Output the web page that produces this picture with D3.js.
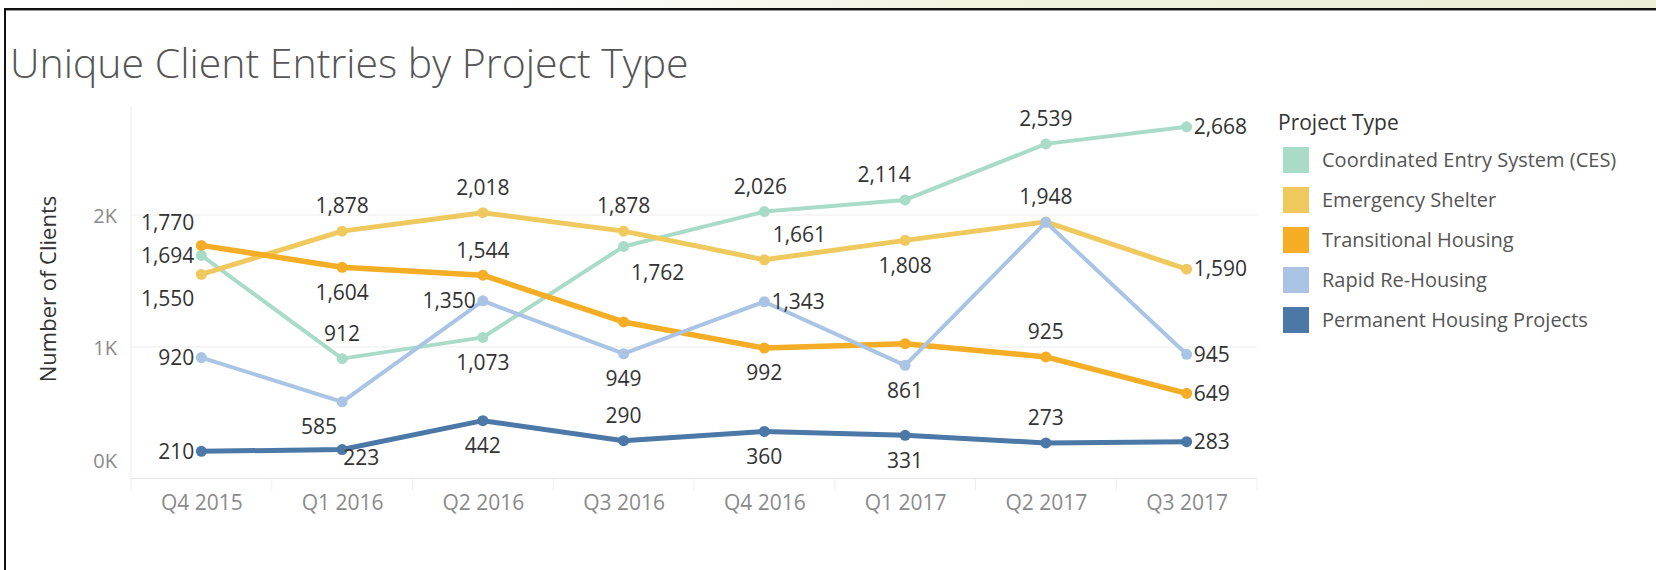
<!DOCTYPE html>
<html>
<head>
<meta charset="utf-8">
<script src="https://cdn.jsdelivr.net/npm/d3@7"></script>
<style>
  body { margin: 0; background: #fff; overflow: hidden; }
  text { font-family: "Open Sans", sans-serif; }
</style>
</head>
<body>
<div id="chart"></div>
<script>

// Quarterly unique client entries

var quarters = ["Q4 2015", "Q1 2016", "Q2 2016", "Q3 2016", "Q4 2016", "Q1 2017", "Q2 2017", "Q3 2017"];

var projectTypes = ["Coordinated Entry System (CES)", "Emergency Shelter", "Transitional Housing",
                    "Rapid Re-Housing", "Permanent Housing Projects"];

var cesClients          = [1694,  912, 1073, 1762, 2026, 2114, 2539, 2668];
var shelterClients      = [1550, 1878, 2018, 1878, 1661, 1808, 1948, 1590];
var transitionalClients = [1770, 1604, 1544, 1190,  992, 1025,  925,  649];
var rapidClients        = [ 920,  585, 1350,  949, 1343,  861, 1945,  945];
var permanentClients    = [ 210,  223,  442,  290,  360,  331,  273,  283];

var yTickValues = [0, 1000, 2000];

var colors = ["#a9dbc9", "#efc95e", "#f4ad24", "#a9c4e4", "#4b78a6"];
var lineWidths = [4, 5, 5.5, 4, 5];

/* Where Tableau put each mark label: t = above, b = below, l = left, r = right,
   optionally followed by a small extra shift [dx, dy]. null = label hidden. */

var T = ["t"], B = ["b"], L = ["l"], R = ["r"];
var labelPlacement = [
  [L, T, B, ["b", 34, 1], ["t", -4, 0], ["t", -21, 0], T, R],
  [["l", 0, 24], T, T, T, ["t", 35, 0], B, T, R],
  [["l", 0, -23], B, T, null, B, null, T, R],
  [L, ["b", -23, 0], L, B, R, B, null, R],
  [L, ["s", 1, 8], B, T, B, B, T, R]
];

var allSeries = [cesClients, shelterClients, transitionalClients, rapidClients, permanentClients];

var series = projectTypes.map(function(name, i) {
  return {
    name: name,
    color: colors[i],
    width: lineWidths[i],
    values: allSeries[i].map(function(v, j) {
      return { quarter: quarters[j], value: v, place: labelPlacement[i][j] };
    })
  };
});

var width = 1656,
    height = 570,
    plot = { left: 131, right: 1257, top: 106, bottom: 479 };

var svg = d3.select("#chart").append("svg")
    .attr("width", width)
    .attr("height", height);

// Frame of the screenshot: beige strip on top and a dark border

var grad = svg.append("defs").append("linearGradient")
    .attr("id", "strip")
    .attr("x1", "0").attr("x2", "1").attr("y1", "0").attr("y2", "0");
grad.append("stop").attr("offset", "0.3").attr("stop-color", "#ffffff");
grad.append("stop").attr("offset", "0.6").attr("stop-color", "#f1f2df");
grad.append("stop").attr("offset", "1").attr("stop-color", "#eef0d6");

svg.append("rect")
    .attr("x", 0).attr("y", 0)
    .attr("width", width).attr("height", 8)
    .attr("fill", "url(#strip)");

svg.append("line")
    .attr("x1", 4).attr("x2", width)
    .attr("y1", 9).attr("y2", 9)
    .attr("stroke", "#111").attr("stroke-width", 2);
svg.append("line")
    .attr("x1", 6).attr("x2", width)
    .attr("y1", 10.5).attr("y2", 10.5)
    .attr("stroke", "#999").attr("stroke-width", 1);
svg.append("line")
    .attr("x1", 5).attr("x2", 5)
    .attr("y1", 8).attr("y2", height)
    .attr("stroke", "#111").attr("stroke-width", 2);

svg.append("text")
    .attr("x", 10)
    .attr("y", 64)
    .attr("dy", "0.35em")
    .attr("fill", "#555")
    .style("font-size", "41px")
    .style("font-weight", 300)
    .text("Unique Client Entries by Project Type");

var xScale = d3.scalePoint()
    .domain(quarters)
    .range([plot.left, plot.right])
    .padding(0.5);

var yScale = d3.scaleLinear()
    .domain([0, 2826])
    .range([plot.bottom, plot.top]);

// Grid lines and axis rules

var grid = svg.append("g").attr("class", "grid");

grid.selectAll("line.h")
    .data(yTickValues.filter(function(d) { return d > 0; }))
  .enter().append("line")
    .attr("class", "h")
    .attr("x1", plot.left).attr("x2", plot.right)
    .attr("y1", function(d) { return yScale(d); })
    .attr("y2", function(d) { return yScale(d); })
    .attr("stroke", "#ececec");

grid.append("line")
    .attr("x1", plot.left).attr("x2", plot.left)
    .attr("y1", plot.top).attr("y2", plot.bottom)
    .attr("stroke", "#ececec");

grid.append("line")
    .attr("x1", plot.left).attr("x2", plot.right)
    .attr("y1", yScale(0) - 0.5).attr("y2", yScale(0) - 0.5)
    .attr("stroke", "#e4e4e4");

var step = xScale.step();
grid.selectAll("line.sep")
    .data(d3.range(quarters.length + 1))
  .enter().append("line")
    .attr("class", "sep")
    .attr("x1", function(i) { return plot.left + i * step; })
    .attr("x2", function(i) { return plot.left + i * step; })
    .attr("y1", plot.bottom).attr("y2", plot.bottom + 12)
    .attr("stroke", "#f0f0f0");

var yAxis = svg.append("g")
    .attr("transform", "translate(" + plot.left + ",0)")
    .call(d3.axisLeft(yScale)
      .tickValues(yTickValues)
      .tickSize(0)
      .tickPadding(14)
      .tickFormat(function(d) { return (d / 1000) + "K"; }));

yAxis.select(".domain").remove();
yAxis.selectAll("text")
    .attr("fill", "#8a8a8a")
    .style("font-size", "20px")
    .style("font-family", "Open Sans")
    .attr("dy", function(d) { return d === 0 ? "-0.6em" : "0.35em"; });

var xAxis = svg.append("g")
    .attr("transform", "translate(0," + plot.bottom + ")")
    .call(d3.axisBottom(xScale).tickSize(0));

xAxis.select(".domain").remove();
xAxis.selectAll("text")
    .attr("y", 24)
    .attr("dy", "0.35em")
    .attr("fill", "#8a8a8a")
    .style("font-size", "21px")
    .style("font-family", "Open Sans");

svg.append("text")
    .attr("transform", "translate(48,289) rotate(-90)")
    .attr("text-anchor", "middle")
    .attr("dy", "0.35em")
    .attr("fill", "#333")
    .style("font-size", "22px")
    .text("Number of Clients");

// Lines and points

var line = d3.line()
    .x(function(d) { return xScale(d.quarter); })
    .y(function(d) { return yScale(d.value); });

var lines = svg.append("g").attr("class", "lines");

var groups = lines.selectAll("g")
    .data(series)
  .enter().append("g");

groups.append("path")
    .attr("d", function(d) { return line(d.values); })
    .attr("fill", "none")
    .attr("stroke", function(d) { return d.color; })
    .attr("stroke-width", function(d) { return d.width; })
    .attr("stroke-linejoin", "round");

groups.selectAll("circle")
    .data(function(d) { return d.values.map(function(v) { return { v: v, color: d.color }; }); })
  .enter().append("circle")
    .attr("cx", function(d) { return xScale(d.v.quarter); })
    .attr("cy", function(d) { return yScale(d.v.value); })
    .attr("r", 5.5)
    .attr("fill", function(d) { return d.color; });

// Mark labels

var labelGap = 25, sideGap = 7;
var anchors = { t: "middle", b: "middle", l: "end", r: "start", s: "start" };

var labelData = [];
series.forEach(function(s) {
  s.values.forEach(function(v) { if (v.place) labelData.push(v); });
});

svg.append("g")
    .attr("class", "labels")
  .selectAll("text")
    .data(labelData)
  .enter().append("text")
    .attr("x", function(d) {
      var k = d.place[0], dx = d.place[1] || 0;
      var base = k === "l" ? -sideGap : k === "r" ? sideGap : 0;
      return xScale(d.quarter) + base + dx;
    })
    .attr("y", function(d) {
      var k = d.place[0], dy = d.place[2] || 0;
      var base = k === "t" ? -labelGap : k === "b" ? labelGap : 0;
      return yScale(d.value) + base + dy;
    })
    .attr("dy", "0.35em")
    .attr("text-anchor", function(d) { return anchors[d.place[0]]; })
    .attr("fill", "#333")
    .style("font-size", "21px")
    .text(function(d) { return d3.format(",")(d.value); });

// Legend

var legend = svg.append("g")
    .attr("transform", "translate(1278,0)");

legend.append("text")
    .attr("x", 0)
    .attr("y", 123)
    .attr("dy", "0.35em")
    .attr("fill", "#333")
    .style("font-size", "21px")
    .style("font-weight", 500)
    .text("Project Type");

var items = legend.selectAll("g.item")
    .data(series)
  .enter().append("g")
    .attr("class", "item")
    .attr("transform", function(d, i) { return "translate(0," + (160 + i * 40) + ")"; });

items.append("rect")
    .attr("x", 5).attr("y", -13)
    .attr("width", 26).attr("height", 26)
    .attr("fill", function(d) { return d.color; });

items.append("text")
    .attr("x", 44)
    .attr("dy", "0.35em")
    .attr("fill", "#555")
    .style("font-size", "20px")
    .text(function(d) { return d.name; });

</script>
</body>
</html>
